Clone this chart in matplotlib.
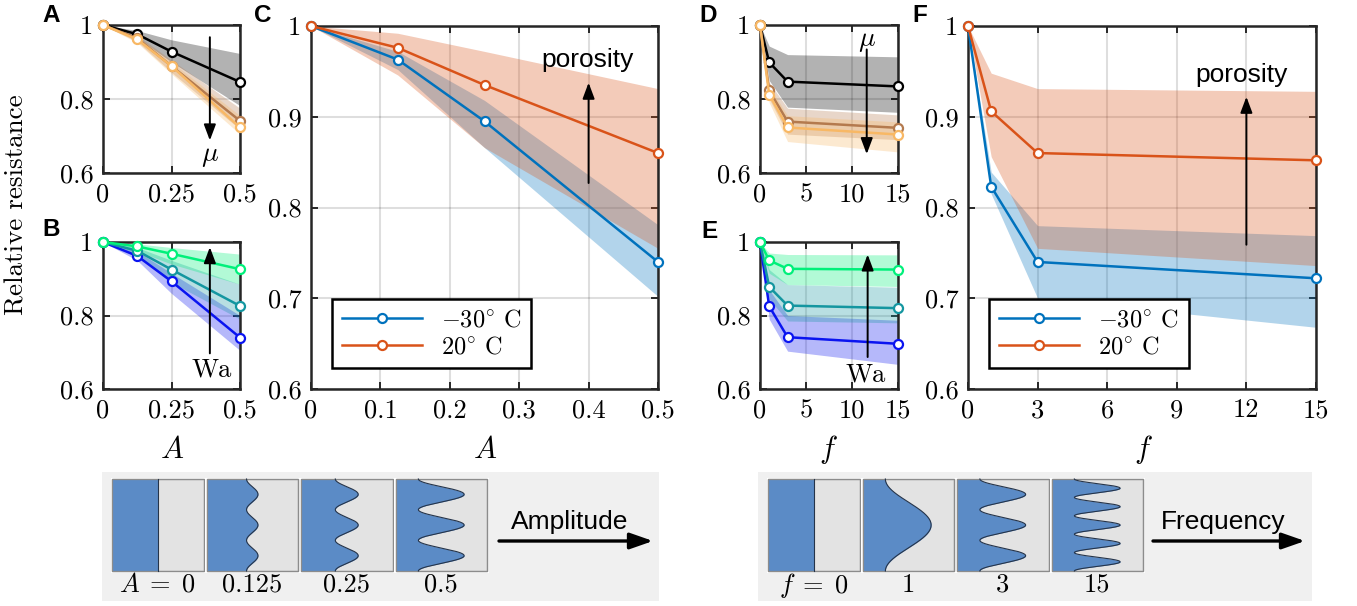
import numpy as np
import matplotlib
matplotlib.use('Agg')
import matplotlib.pyplot as plt
from matplotlib.ticker import FuncFormatter

plt.rcParams['font.family'] = 'serif'
plt.rcParams['font.serif'] = ['cmr10']
plt.rcParams['mathtext.fontset'] = 'cm'
plt.rcParams['axes.formatter.use_mathtext'] = True

# ---- data ----
amp_x = [0, 0.125, 0.25, 0.5]
freq_x = [0, 1, 3, 15]

# A: viscosity sweep vs amplitude (black, brown, orange)
A_mid = [[1, 0.975, 0.928, 0.846], [1, 0.964, 0.889, 0.741], [1, 0.961, 0.889, 0.723]]
A_hi = [[1, 0.985, 0.960, 0.923], [1, 0.972, 0.905, 0.775], [1, 0.968, 0.900, 0.755]]
A_lo = [[1, 0.965, 0.900, 0.782], [1, 0.955, 0.872, 0.718], [1, 0.952, 0.868, 0.705]]

# B: Weber sweep vs amplitude (blue, teal, green)
B_mid = [[1, 0.962, 0.893, 0.740], [1, 0.976, 0.925, 0.826], [1, 0.988, 0.968, 0.926]]
B_hi = [[1, 0.975, 0.915, 0.800], [1, 0.985, 0.950, 0.885], [1, 0.995, 0.985, 0.967]]
B_lo = [[1, 0.950, 0.860, 0.705], [1, 0.960, 0.890, 0.790], [1, 0.975, 0.940, 0.885]]

# C: temperature vs amplitude (-30 C, 20 C)
C_mid = [[1, 0.963, 0.895, 0.740], [1, 0.976, 0.935, 0.860]]
C_hi = [[1, 0.972, 0.918, 0.781], [1, 0.992, 0.972, 0.931]]
C_lo = [[1, 0.952, 0.866, 0.702], [1, 0.946, 0.866, 0.755]]

# D: viscosity sweep vs frequency
D_mid = [[1, 0.899, 0.847, 0.834], [1, 0.823, 0.739, 0.722], [1, 0.812, 0.723, 0.704]]
D_hi = [[1, 0.943, 0.920, 0.914], [1, 0.845, 0.775, 0.757], [1, 0.835, 0.755, 0.738]]
D_lo = [[1, 0.850, 0.778, 0.764], [1, 0.800, 0.705, 0.690], [1, 0.790, 0.685, 0.657]]

# E: Weber sweep vs frequency
E_mid = [[1, 0.825, 0.741, 0.723], [1, 0.878, 0.827, 0.820], [1, 0.950, 0.927, 0.925]]
E_hi = [[1, 0.870, 0.800, 0.787], [1, 0.925, 0.884, 0.877], [1, 0.970, 0.966, 0.965]]
E_lo = [[1, 0.790, 0.703, 0.667], [1, 0.845, 0.785, 0.780], [1, 0.915, 0.884, 0.879]]

# F: temperature vs frequency
F_mid = [[1, 0.823, 0.740, 0.722], [1, 0.906, 0.860, 0.852]]
F_hi = [[1, 0.839, 0.780, 0.769], [1, 0.948, 0.931, 0.928]]
F_lo = [[1, 0.815, 0.700, 0.668], [1, 0.856, 0.755, 0.736]]

temp_labels = [r'$-30^{\circ}$ C', r'$20^{\circ}$ C']

# sketches under the plots
sketch_amps = [0, 0.125, 0.25, 0.5]
sketch_amp_labels = [r'$A\;=\;0$', '0.125', '0.25', '0.5']
sketch_freq_amps = [0, 0.5, 0.5, 0.5]
sketch_waves = [0, 1, 3, 5]
sketch_freq_labels = [r'$f\;=\;0$', '1', '3', '15']

mu_colors = ['#000000', '#b47a4e', '#f8b865']
wa_colors = ['#0a14f0', '#1496a0', '#00f07a']
temp_colors = ['#0072BD', '#D95319']

W, H = 1357, 606
fig = plt.figure(figsize=(W / 100, H / 100), dpi=100)

sk = fig.add_axes([0, 0, 1, 1])
sk.set_xlim(0, W)
sk.set_ylim(H, 0)
sk.axis('off')


def add_ax(l, t, r, b):
    return fig.add_axes([l / W, 1 - b / H, (r - l) / W, (b - t) / H])


def style(ax, xlim, xticks, yticks):
    ax.set_xlim(xlim)
    ax.set_ylim(0.6, 1)
    ax.set_xticks(xticks)
    ax.set_yticks(yticks)
    fmt = FuncFormatter(lambda v, p: f'{v:g}')
    ax.xaxis.set_major_formatter(fmt)
    ax.yaxis.set_major_formatter(fmt)
    ax.tick_params(direction='in', top=True, right=True, length=5, width=1.4,
                   pad=7, labelsize=19, color='#262626')
    for s in ax.spines.values():
        s.set_linewidth(1.8)
        s.set_color('#262626')
    ax.grid(True, color='k', alpha=0.13, lw=1.5)
    ax.set_axisbelow(True)


def draw(ax, x, mids, his, los, colors, labels=None):
    for hi, lo, c in zip(his, los, colors):
        ax.fill_between(x, lo, hi, color=c, alpha=0.3, lw=0)
    lines = []
    for i, (m, c) in enumerate(zip(mids, colors)):
        ln, = ax.plot(x, m, '-o', color=c, mfc='white', mec=c, ms=6.5, mew=1.6,
                      lw=1.8, clip_on=False, zorder=3,
                      label=labels[i] if labels else None)
        lines.append(ln)
    return lines


def arrow(ax, x, y0, y1):
    ax.annotate('', xy=(x, y1), xytext=(x, y0),
                arrowprops=dict(arrowstyle='-|>,head_length=0.8,head_width=0.3',
                                color='k', lw=1.4, mutation_scale=12,
                                shrinkA=0, shrinkB=0), zorder=4)


def legend(ax, lines):
    lg = ax.legend(handles=lines, loc='lower left', bbox_to_anchor=(0.06, 0.058),
                   fancybox=False, edgecolor='k', framealpha=1, handlelength=3.3,
                   fontsize=17.5, numpoints=1, borderpad=0.4, labelspacing=0.2,
                   borderaxespad=0)
    lg.get_frame().set_linewidth(1.8)


axA = add_ax(103, 25, 240, 173)
style(axA, (0, 0.5), [0, 0.25, 0.5], [0.6, 0.8, 1])
draw(axA, amp_x, A_mid, A_hi, A_lo, mu_colors)
arrow(axA, 0.39, 0.967, 0.688)
axA.text(0.39, 0.646, r'$\mu$', fontsize=20, ha='center', va='center')

axB = add_ax(103, 242, 240, 389)
style(axB, (0, 0.5), [0, 0.25, 0.5], [0.6, 0.8, 1])
draw(axB, amp_x, B_mid, B_hi, B_lo, wa_colors)
arrow(axB, 0.39, 0.697, 0.986)
axB.text(0.395, 0.652, 'Wa', fontsize=19, ha='center', va='center')

axC = add_ax(311, 26, 658, 389)
style(axC, (0, 0.5), [0, 0.1, 0.2, 0.3, 0.4, 0.5], [0.6, 0.7, 0.8, 0.9, 1])
lnC = draw(axC, amp_x, C_mid, C_hi, C_lo, temp_colors, temp_labels)
arrow(axC, 0.4, 0.827, 0.9375)
axC.text(0.398, 0.963, 'porosity', family='Liberation Sans', fontsize=19,
         ha='center', va='center')
legend(axC, lnC)

axD = add_ax(760, 25, 898, 173)
style(axD, (0, 15), [0, 5, 10, 15], [0.6, 0.8, 1])
draw(axD, freq_x, D_mid, D_hi, D_lo, mu_colors)
arrow(axD, 11.6, 0.934, 0.651)
axD.text(11.6, 0.958, r'$\mu$', fontsize=20, ha='center', va='center')

axE = add_ax(760, 242, 898, 389)
style(axE, (0, 15), [0, 5, 10, 15], [0.6, 0.8, 1])
draw(axE, freq_x, E_mid, E_hi, E_lo, wa_colors)
arrow(axE, 11.7, 0.687, 0.966)
axE.text(11.5, 0.639, 'Wa', fontsize=19, ha='center', va='center')

axF = add_ax(968, 26, 1316, 389)
style(axF, (0, 15), [0, 3, 6, 9, 12, 15], [0.6, 0.7, 0.8, 0.9, 1])
lnF = draw(axF, freq_x, F_mid, F_hi, F_lo, temp_colors, temp_labels)
arrow(axF, 12, 0.759, 0.922)
axF.text(11.8, 0.946, 'porosity', family='Liberation Sans', fontsize=19,
         ha='center', va='center')
legend(axF, lnF)

# axis labels
fig.text(17 / W, 1 - 205 / H, 'Relative resistance', rotation=90, fontsize=19.5,
         ha='center', va='center')
for xc, lab in [(172, r'$A$'), (485, r'$A$'), (828, r'$f$'), (1143, r'$f$')]:
    fig.text(xc / W, 1 - 450 / H, lab, fontsize=22, ha='center', va='center')

# panel letters
for x0, y0, lab in [(42, 16, 'A'), (42, 230, 'B'), (254, 15, 'C'),
                    (699, 15, 'D'), (701, 231, 'E'), (912, 15, 'F')]:
    fig.text(x0 / W, 1 - y0 / H, lab, family='Liberation Sans', weight='bold',
             fontsize=17.5, ha='left', va='center')


# ---- interface sketches ----
def sketch_row(x_bg0, x_bg1, x_box0, amps, waves, labels, word, x_arrow):
    sk.add_patch(plt.Rectangle((x_bg0, 472), x_bg1 - x_bg0, 129, color='#f0f0f0', lw=0))
    bw, top, bh, step = 91.5, 479, 92, 94.5
    t = np.linspace(0, 1, 400)
    for k, (a, n, lab) in enumerate(zip(amps, waves, labels)):
        x0 = x_box0 + k * step
        sk.add_patch(plt.Rectangle((x0 - 1.5, top - 1.5), bw + 3, bh + 3,
                                   facecolor='white', lw=0))
        sk.add_patch(plt.Rectangle((x0, top), bw, bh, facecolor='#e3e3e3',
                                   edgecolor='#8c8c8c', lw=0.9))
        xs = x0 + bw * (0.5 - a / 2 * np.cos(2 * np.pi * n * t))
        ys = top + bh * t
        sk.fill_betweenx(ys, x0 + 0.5, xs, color='#5b8bc6', lw=0)
        sk.plot(xs, ys, color='#25344a', lw=0.8)
        sk.add_patch(plt.Rectangle((x0, top), bw, bh, facecolor='none',
                                   edgecolor='#8c8c8c', lw=0.9))
        sk.text(x0 + bw / 2, 585, lab, fontsize=19, ha='center', va='center')
    sk.annotate('', xy=(x_arrow[1], 541), xytext=(x_arrow[0], 541),
                arrowprops=dict(arrowstyle='-|>,head_length=1.0,head_width=0.35',
                                color='k', lw=2.4, mutation_scale=14,
                                shrinkA=0, shrinkB=0))
    sk.text((x_arrow[0] + x_arrow[1]) / 2 - 6, 522, word, family='Liberation Sans',
            fontsize=19, ha='center', va='center')


sketch_row(102, 659, 112, sketch_amps, [3, 3, 3, 3], sketch_amp_labels,
           'Amplitude', (499, 653))
sketch_row(758, 1312, 768, sketch_freq_amps, sketch_waves, sketch_freq_labels,
           'Frequency', (1153, 1305))

fig.savefig('out.png', dpi=100)
